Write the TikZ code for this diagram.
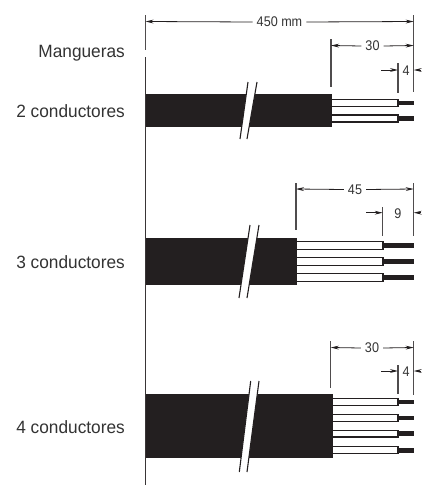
\documentclass[tikz,border=0pt]{standalone}
\usepackage{fontspec}
\setmainfont{Liberation Sans}
\newfontfamily\narrowfont[FakeStretch=0.97]{Liberation Sans}
\newfontfamily\dimfont[FakeStretch=0.9]{Liberation Sans}
\usetikzlibrary{arrows.meta}
\definecolor{ink}{HTML}{231F20}
\definecolor{lbl}{HTML}{333333}
\tikzset{
  label text/.style={font=\narrowfont\fontsize{17.8}{20}\selectfont, text=lbl, anchor=east, inner sep=0pt},
  dim text/.style={font=\dimfont\fontsize{14}{16}\selectfont, text=lbl, fill=white, inner xsep=4pt, inner ysep=0pt},
  guide/.style={draw=ink!80, line width=1.15pt},
  refline/.style={draw=ink!90, line width=1.4pt},
  dimline/.style={draw=ink, line width=0.8pt, -{Stealth[length=8pt,width=3.8pt]}},
  cable/.style={fill=ink, draw=none},
  wire/.style={draw=ink, fill=white, line width=1.1pt},
  core/.style={fill=ink, draw=none},
  cutline/.style={draw=ink, line width=1.1pt},
  cutgap/.style={fill=white, draw=none},
}
\newcommand{\wirerow}[4]{%
  \path[wire] (#3,#1) rectangle (#4,#2);
  \path[core] (#4,{(#1+#2)/2-2.3}) rectangle (414,{(#1+#2)/2+2.3});
}
\begin{document}
\begin{tikzpicture}[x=1pt,y=-1pt]
\useasboundingbox (0,0) rectangle (421,485);
% main reference line
\coordinate (refT) at (145.5,57);
\coordinate (refB) at (145.5,485);
\draw[refline] (refT) -- (refB);
% labels
\node[label text] (l0) at (125,53) {Mangueras};
\node[label text] (l2) at (125,111) {2 conductores};
\node[label text] (l3) at (125,262) {3 conductores};
\node[label text] (l4) at (125,427) {4 conductores};
% overall dimension
\coordinate (a1) at (145.5,15); \coordinate (a2) at (145.5,50);
\coordinate (b1) at (413.7,15); \coordinate (b2) at (413.7,92);
\draw[guide] (a1) -- (a2);
\draw[guide] (b1) -- (b2);
\node[dim text] (d450) at (279.5,22) {450 mm};
\draw[dimline] (d450.west) -- (145.5,21.5);
\draw[dimline] (d450.east) -- (413.7,21.5);
% ---- cable 1
\path[cable] (145.5,94) rectangle (331.5,127);
\wirerow{99.5}{106.5}{331.5}{398}
\wirerow{115}{122}{331.5}{398}
\path[cutgap] (248,82) -- (257,82) -- (247,139) -- (240,139) -- cycle;
\draw[cutline] (248,82) -- (240,139);
\draw[cutline] (257,82) -- (247,139);
\draw[guide] (331,39) -- (331,87);
\node[dim text] (d30a) at (372.5,46) {30};
\draw[dimline] (d30a.west) -- (331,45.5);
\draw[dimline] (d30a.east) -- (413.7,45.5);
\draw[guide] (398,63) -- (398,93);
\node[dim text, fill=none, inner xsep=0pt] (d4a) at (406,70.5) {4};
\coordinate (p1) at (381,70); \coordinate (p2) at (421,70);
\draw[dimline] (p1) -- (398,70);
\draw[dimline] (p2) -- (413.7,70);
% ---- cable 2
\path[cable] (145.5,238) rectangle (296.7,285);
\wirerow{241.7}{249.3}{296.7}{383}
\wirerow{257.7}{265.5}{296.7}{383}
\wirerow{273.3}{281.2}{296.7}{383}
\path[cutgap] (250,225) -- (259,225) -- (247,298) -- (239,298) -- cycle;
\draw[cutline] (250,225) -- (239,298);
\draw[cutline] (259,225) -- (247,298);
\draw[guide] (296,183) -- (296,230);
\draw[guide] (413.7,183) -- (413.7,236);
\node[dim text] (d45) at (355,189.5) {45};
\draw[dimline] (d45.west) -- (296,189);
\draw[dimline] (d45.east) -- (413.7,189);
\draw[guide] (382.7,207) -- (382.7,236);
\node[dim text, fill=none, inner xsep=0pt] (d9) at (398,213.5) {9};
\coordinate (p3) at (366,212.7); \coordinate (p4) at (421,212.7);
\draw[dimline] (p3) -- (382.7,212.7);
\draw[dimline] (p4) -- (413.7,212.7);
% ---- cable 3
\path[cable] (145.5,393.5) rectangle (332.5,458);
\wirerow{398.3}{405.3}{332.5}{398}
\wirerow{414.7}{421.3}{332.5}{398}
\wirerow{430.3}{437}{332.5}{398}
\wirerow{446.7}{453.7}{332.5}{398}
\path[cutgap] (250.7,381) -- (259,381) -- (247,472) -- (239.3,472) -- cycle;
\draw[cutline] (250.7,381) -- (239.3,472);
\draw[cutline] (259,381) -- (247,472);
\draw[guide] (330.7,341) -- (330.7,388);
\draw[guide] (413.7,341) -- (413.7,395);
\node[dim text] (d30b) at (372,348) {30};
\draw[dimline] (d30b.west) -- (330.7,347.5);
\draw[dimline] (d30b.east) -- (413.7,347.5);
\draw[guide] (398,365) -- (398,394);
\node[dim text, fill=none, inner xsep=0pt] (d4b) at (406,372) {4};
\coordinate (p5) at (381,371); \coordinate (p6) at (421,371);
\draw[dimline] (p5) -- (398,371);
\draw[dimline] (p6) -- (413.7,371);
\end{tikzpicture}
\end{document}
